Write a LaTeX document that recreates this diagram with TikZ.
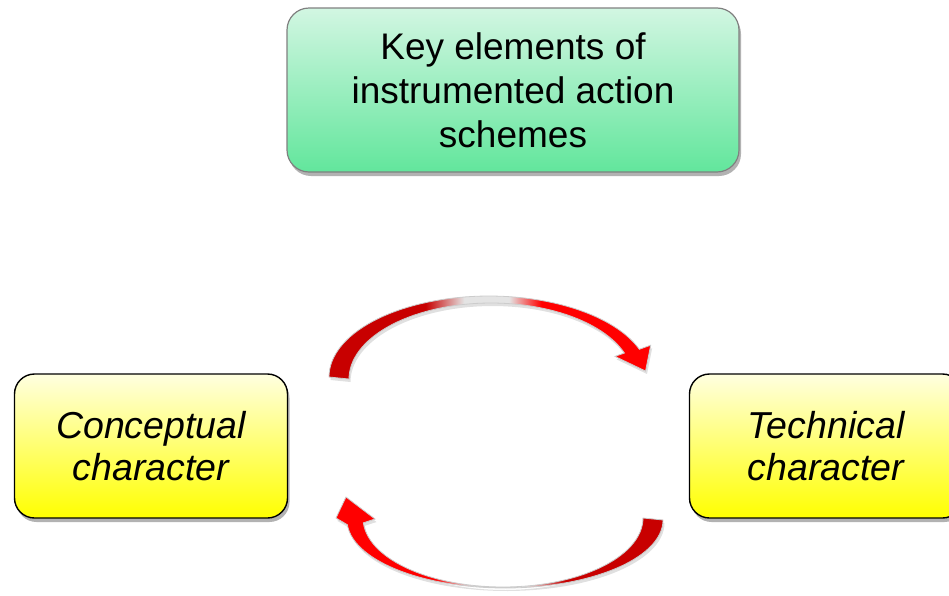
\documentclass[tikz,border=0pt]{standalone}
\usepackage{fontspec}
\setmainfont{Liberation Sans}
\usetikzlibrary{shadows}

\definecolor{greentop}{HTML}{D2F6E2}
\definecolor{greenbot}{HTML}{62E69C}
\definecolor{yeltop}{HTML}{FFFFE0}
\definecolor{yelbot}{HTML}{FFFF00}
\definecolor{arcred}{HTML}{FF0000}
\definecolor{arcdark}{HTML}{C80000}
\definecolor{archi}{HTML}{E4E4E4}

% Ribbon shadings: dark tail, light band at the crest, bright head
\pgfdeclarehorizontalshading{taildarkleft}{100bp}{color(0bp)=(arcdark); color(25bp)=(arcdark); color(40bp)=(arcdark); color(46bp)=(archi); color(53bp)=(archi); color(58bp)=(arcred); color(75bp)=(arcred); color(100bp)=(arcred)}
\pgfdeclarehorizontalshading{taildarkright}{100bp}{color(0bp)=(arcred); color(25bp)=(arcred); color(40bp)=(arcred); color(46bp)=(archi); color(54bp)=(archi); color(60bp)=(arcdark); color(75bp)=(arcdark); color(100bp)=(arcdark)}

\begin{document}
\begin{tikzpicture}[x=1pt,y=-1pt,
  softshadow/.style={drop shadow={shadow xshift=2pt, shadow yshift=-4pt, opacity=0.3, fill=black}},
  titlebox/.style={rectangle, rounded corners=22pt, draw=black!50, line width=1.2pt,
    top color=greentop, bottom color=greenbot, minimum width=452pt, minimum height=164pt,
    align=center, font=\fontsize{37}{44}\selectfont, softshadow},
  charbox/.style={rectangle, rounded corners=20pt, draw=black, line width=1.4pt,
    top color=yeltop, bottom color=yelbot, minimum width=273pt, minimum height=144pt,
    align=center, font=\fontsize{37.5}{42}\selectfont\itshape, softshadow},
  ribbon/.style={draw=black!20, line width=0.8pt, drop shadow={shadow xshift=1.5pt, shadow yshift=-3pt, opacity=0.12, fill=black}}]

\useasboundingbox (0,0) rectangle (949,595);
\clip (0,0) rectangle (949,595);

% boxes
\node[titlebox] (key) at (513,90) {Key elements of\\instrumented action\\schemes};
\node[charbox] (concept) at (151,446) {Conceptual\\character};
\node[charbox] (tech) at (826,446) {Technical\\character};

% upper curved arrow: conceptual -> technical
\shadedraw[ribbon, shading=taildarkleft]
  plot[domain=180:340, samples=60] ({489+160*cos(\x)},{377+81*sin(\x)})
  -- (650.7,345.2) -- (645.5,371) -- (615,356.4)
  -- plot[domain=0:160, samples=60] ({491+142*cos(340-\x)},{379+76*sin(340-\x)})
  -- cycle;

% lower curved arrow: technical -> conceptual
\shadedraw[ribbon, shading=taildarkright]
  plot[domain=0:176, samples=60] ({505+158*cos(\x)},{520+68*sin(\x)})
  -- (336,518) -- (346,497) -- (375,519)
  -- plot[domain=0:176, samples=60] ({503+140*cos(176-\x)},{518+69*sin(176-\x)})
  -- cycle;
\end{tikzpicture}
\end{document}
